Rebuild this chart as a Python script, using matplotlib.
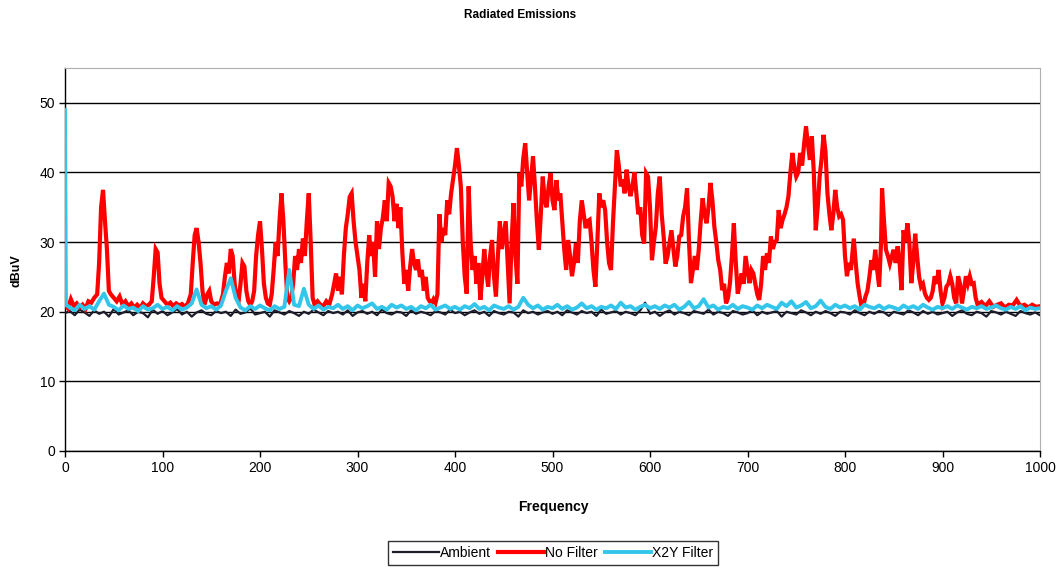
import numpy as np
import matplotlib
matplotlib.use("Agg")
import matplotlib.pyplot as plt

plt.rcParams['font.family'] = ['Liberation Sans', 'DejaVu Sans']

# ---------------- data ----------------
ambient_freq = np.arange(0, 1001, 5)
ambient_level = [
    19.8,20.1,19.5,20.3,19.9,19.4,20.2,19.7,20.0,19.3,
    20.4,19.6,19.9,20.2,19.5,20.0,19.8,19.2,20.3,19.7,
    20.1,19.5,19.9,20.4,19.6,20.0,19.3,19.9,20.2,19.7,
    19.5,20.1,19.8,20.0,19.4,20.3,19.7,19.9,20.5,19.6,
    19.8,20.0,19.3,20.2,19.9,19.6,20.1,19.8,19.4,20.0,
    19.7,20.3,19.9,19.5,20.1,19.8,20.0,19.6,20.2,19.4,
    19.9,20.1,19.7,20.0,19.5,20.3,19.8,19.6,20.0,19.9,
    19.4,20.2,19.7,20.0,19.8,19.5,20.1,19.9,19.6,20.3,
    19.8,20.0,19.5,19.9,20.2,19.7,20.0,19.4,20.1,19.8,
    19.6,20.0,19.9,19.3,20.2,19.8,20.0,19.6,19.9,20.1,
    19.7,20.0,19.5,20.2,19.9,19.6,20.1,19.8,20.0,19.4,
    20.3,19.7,19.9,20.1,19.6,20.0,19.8,19.5,20.2,21.3,
    19.7,20.0,19.4,19.9,20.2,19.6,20.0,19.8,19.5,20.1,
    19.9,19.7,20.3,19.6,20.0,19.8,19.4,20.1,19.9,19.6,
    19.8,20.2,19.5,20.0,19.7,19.9,20.1,19.3,20.0,19.8,
    19.6,20.2,19.9,19.5,20.0,19.7,20.1,19.8,19.4,20.0,
    19.9,19.6,20.2,19.8,19.5,20.0,19.7,20.1,19.9,19.4,
    20.0,19.8,19.6,20.2,19.9,19.5,20.1,19.7,20.0,19.6,
    19.8,20.0,19.4,19.9,20.2,19.7,19.5,20.0,19.8,19.3,
    20.1,19.9,19.6,20.0,19.7,19.4,20.1,19.8,19.6,19.9,
    19.5,
]

red_freq = [
    0,3,6,9,12,15,18,21,24,27,30,33,35,37,39,41,43,45,47,50,
    53,56,59,62,65,68,71,74,77,80,83,86,89,91,93,95,97,99,102,105,
    108,111,114,117,120,123,126,129,131,133,135,137,139,141,143,146,148,150,153,156,
    159,162,164,166,168,170,172,174,176,178,180,182,184,186,188,190,192,194,196,198,
    200,202,204,206,208,210,212,214,216,218,220,222,224,226,228,230,232,234,236,238,
    240,242,244,246,248,250,252,254,256,259,262,265,268,271,274,276,278,280,282,284,
    286,288,290,292,294,296,298,300,302,304,306,308,310,312,314,316,318,320,322,324,
    326,328,330,332,334,336,338,340,342,344,346,348,350,352,354,356,358,360,362,364,
    366,368,370,372,374,376,378,380,382,384,386,388,390,392,394,396,398,400,402,404,
    406,408,410,412,414,416,418,420,422,424,426,428,430,432,434,436,438,440,442,444,
    446,448,450,452,454,456,458,460,462,464,466,468,470,472,474,476,478,480,482,484,
    486,488,490,492,494,496,498,500,502,504,506,508,510,512,514,516,518,520,522,524,
    526,528,530,532,534,536,538,540,542,544,546,548,550,552,554,556,558,560,562,564,
    566,568,570,572,574,576,578,580,582,584,586,588,590,592,594,596,598,600,602,604,
    606,608,610,612,614,616,618,620,622,624,626,628,630,632,634,636,638,640,642,644,
    646,648,650,652,654,656,658,660,662,664,666,668,670,672,674,676,678,680,682,684,
    686,688,690,692,694,696,698,700,702,704,706,708,710,712,714,716,718,720,722,724,
    726,728,730,732,734,736,738,740,742,744,746,748,750,752,754,756,758,760,762,764,
    766,768,770,772,774,776,778,780,782,784,786,788,790,792,794,796,798,800,802,804,
    806,808,809,811,813,815,817,819,821,823,825,827,829,831,833,835,837,838,840,842,
    844,846,848,850,852,854,856,858,860,862,864,866,868,870,872,874,876,878,880,882,
    884,886,888,890,892,894,896,898,900,902,904,906,908,910,912,914,916,918,920,922,
    924,926,928,930,932,934,936,940,944,948,952,956,960,964,968,972,976,980,984,988,
    992,996,1000,
]
red_level = [
    21,20.5,21.8,20.8,21.2,20.6,21.0,20.4,21.5,21.3,22.0,22.5,27,35,37.5,33,29,23,22.5,22.0,
    21.5,22.2,21.0,21.5,20.8,21.2,20.6,21.0,20.5,21.2,20.8,21.0,21.5,25,29,28.5,24,22,21.5,21.0,
    21.3,20.8,21.2,20.9,21.1,20.7,21.2,22.5,27,31,32,30,27,23,21,22.5,23,21.5,21,21.2,
    21,22.5,25,27,25.5,29,28,24,22,21.5,24,27,26.5,23,21.5,21,21.5,23,28,31,
    33,29,24,22,21.2,21,22.5,26,30,28,33,37,33,27,22,21.5,22,24,28,26,
    29,27,30.5,28,33,37,30,22,21,21.5,21,20.8,21.5,21,22.5,24,25.5,23,25,22.5,
    28,32,34,36.5,37,33,30,28,26,22,24,21.5,27,31,28,30,25,33,29,32,
    33.5,36,33,38.5,38,36.5,33,35.5,32,35,28.5,24,26,23,26.5,29,27,26,27.5,25,
    26,23,25,22,21.5,21.2,21.8,21.3,22.5,34,30,32,31,36,34,37,39,41,43.5,41,
    38,30,25,22.6,38,30,26,28,24,27,21.7,25,29,26,23.6,28,30.3,25,22.2,28,
    33,29,31,33,27,21.2,30,35.6,28,24,39.9,38,42,44.2,40,36,39,42.3,38,33,
    28.9,34,39.4,36,35,38,39.9,36,34.6,38.9,36,37,33,29,26,30.3,28,25.1,27,29.8,
    27,33,36,34,32,33,33.2,30,26,23.6,30,37,35,36,34.6,30,27,26,32.7,38,
    43.2,41,38,39,37,40.4,38,36.6,38,40,37,34,35,31,29.8,39.9,39.4,35,27.4,30,
    32.2,37,39.4,34,30.8,26.9,28,29.8,31.7,29,26.5,28,30.8,31,33.7,35,37.7,30,24.1,26,
    28,26,28.9,33,36.3,34,32.7,35,38.5,36,32.2,30,27.4,26,23.1,24,21.2,22,24.1,28,
    32.7,27,22.6,24,25.5,24,28,26,24.1,26,25.5,24,22.5,21.7,24,28,26,28.4,27,30.8,
    29,30,30.3,34.6,32,33.2,34,35,36.6,40,42.8,40.8,39.4,40,42.8,41,44,46.6,44,41.8,
    45.2,40,31.7,35,39.4,42,45.4,43,37,34,31.7,34,37.5,35,33.7,34,33.2,28,25.1,27,
    26,29,30.5,27,24,22.2,20.7,21,22.2,23,25,27.4,26,28.9,26,23.6,30,37.7,33,28.9,
    28,26.9,28,28.9,27,29.4,27,23.1,31.7,30,32.7,30,24.1,27,31.2,28,25,23.6,24,22.6,
    22,21.7,22,23,25.1,24,26,23,21.2,22,23.6,24,25.1,24,22,21.2,25.1,24,21.2,23,
    25.1,24,25.1,24,24.1,22,21,21.4,20.8,21.5,20.7,21,21.2,20.6,21.0,20.9,21.7,20.8,21.0,20.6,
    21.0,20.7,20.8,
]

x2y_freq = np.concatenate([[0, 1], np.arange(5, 1001, 5)])
x2y_level = [
    49.0, 21.0,
    20.6,20.2,21.0,20.4,20.8,20.3,21.5,22.6,21.0,20.7,
    20.2,20.9,20.4,20.6,20.1,20.8,20.3,20.5,21.0,20.4,
    20.7,20.2,20.8,20.3,20.6,21.2,23.2,21.0,20.5,20.8,
    20.3,20.9,23.0,24.8,22.0,20.6,20.2,20.8,20.4,20.9,
    20.5,20.2,20.8,20.4,20.7,26.0,21.0,20.8,23.3,21.0,
    20.4,20.9,20.3,20.7,20.5,21.0,20.4,20.8,20.2,20.9,
    20.5,20.8,21.2,20.4,20.7,20.3,21.0,20.6,20.9,20.4,
    20.7,20.2,20.8,20.5,21.0,20.3,20.6,20.9,20.4,20.7,
    20.3,20.8,20.5,21.1,20.4,20.7,20.2,20.9,20.6,20.4,
    20.8,20.3,20.7,22.0,21.0,20.5,20.9,20.3,20.7,20.5,
    21.0,20.4,20.8,20.3,20.6,21.2,20.5,20.8,20.3,20.7,
    20.5,20.9,20.4,21.3,20.6,20.8,20.3,20.7,21.0,20.5,
    20.8,20.4,20.9,20.6,21.0,20.3,20.7,21.4,20.5,20.8,
    21.8,20.6,20.9,20.3,20.7,20.5,21.0,20.4,20.8,20.6,
    20.3,20.9,20.5,21.0,20.7,20.4,21.3,20.8,21.5,20.6,
    20.9,21.4,20.5,20.8,21.6,20.7,20.4,21.0,20.6,20.9,
    20.5,20.8,20.3,21.0,20.7,20.5,20.9,20.4,20.8,20.6,
    20.3,20.9,20.5,20.8,20.4,21.0,20.6,20.3,20.7,20.5,
    20.8,20.4,20.9,20.6,20.3,20.7,20.5,20.8,20.4,20.6,
    20.9,20.5,20.3,20.7,20.4,20.8,20.2,20.6,20.4,20.5,
]

series_names = ["Ambient", "No Filter", "X2Y Filter"]
y_ticks = [0, 10, 20, 30, 40, 50]
x_ticks = [0, 100, 200, 300, 400, 500, 600, 700, 800, 900, 1000]

# ---------------- figure ----------------
fig = plt.figure(figsize=(10.58, 5.71), dpi=100)
ax = fig.add_axes([65/1058, 1-451/571, (1040-65)/1058, (451-68)/571])

ax.plot(ambient_freq, ambient_level, color="#1c1c2a", lw=1.6, label=series_names[0], zorder=3)
ax.plot(red_freq, red_level, color="#ff0000", lw=3.0, label=series_names[1], zorder=4,
        solid_joinstyle='miter')
ax.plot(x2y_freq, x2y_level, color="#33c6ea", lw=2.8, label=series_names[2], zorder=5)

ax.set_xlim(0, 1000)
ax.set_ylim(0, 55)
ax.set_xticks(x_ticks)
ax.set_yticks(y_ticks)
ax.tick_params(axis='both', direction='out', length=4, width=1, labelsize=10, colors='black', pad=3)
ax.yaxis.grid(True, color='black', lw=1.0)
ax.set_axisbelow(True)
for s in ['top', 'right']:
    ax.spines[s].set_color('#b0b0b0')
    ax.spines[s].set_linewidth(0.8)
for s in ['left', 'bottom']:
    ax.spines[s].set_color('black')
    ax.spines[s].set_linewidth(1.0)

fig.text(0.492, 1-15/571, "Radiated Emissions", ha='center', va='center', fontsize=8.5, fontweight='bold')
fig.text(0.523, 1-507/571, "Frequency", ha='center', va='center', fontsize=10, fontweight='bold')
fig.text(17/1058, 1-271/571, "dBuV", ha='center', va='center', rotation=90, fontsize=9, fontweight='bold')

handles, labels = ax.get_legend_handles_labels()
leg = fig.legend(handles, labels, loc='center', bbox_to_anchor=(553/1058, 1-553/571), ncol=3,
                 frameon=True, fancybox=False, edgecolor='black', fontsize=10,
                 handlelength=3.3, handletextpad=0.1, columnspacing=0.5, borderpad=0.35,
                 borderaxespad=0)
leg.get_frame().set_linewidth(1.0)

fig.savefig("out.png", dpi=100)
